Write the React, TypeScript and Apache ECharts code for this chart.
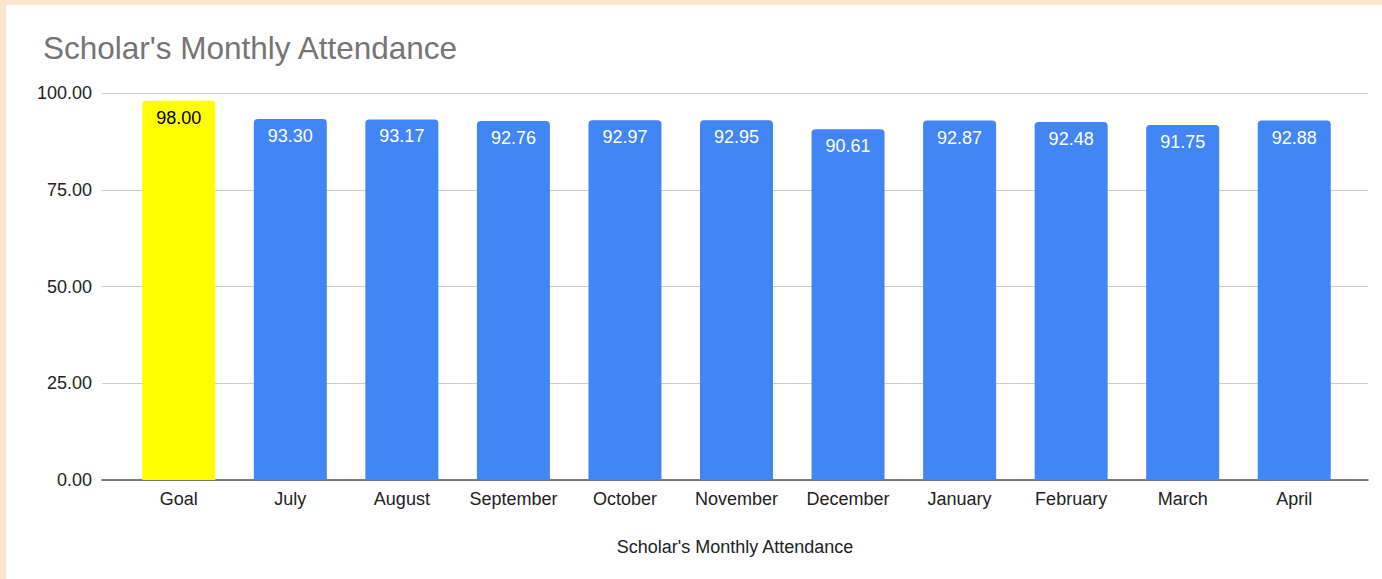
import React, { useEffect, useRef } from "react";
import * as echarts from "echarts";

const categories = ["Goal", "July", "August", "September", "October", "November", "December", "January", "February", "March", "April"];
const attendance = [98.0, 93.3, 93.17, 92.76, 92.97, 92.95, 90.61, 92.87, 92.48, 91.75, 92.88];
const barColors = ["#ffff00", "#4285f4", "#4285f4", "#4285f4", "#4285f4", "#4285f4", "#4285f4", "#4285f4", "#4285f4", "#4285f4", "#4285f4"];
const labelColors = ["#000000", "#ffffff", "#ffffff", "#ffffff", "#ffffff", "#ffffff", "#ffffff", "#ffffff", "#ffffff", "#ffffff", "#ffffff"];
const titleText = "Scholar's Monthly Attendance";
const xAxisName = "Scholar's Monthly Attendance";

const FONT = "'Liberation Sans', Arial, sans-serif";

export default function App() {
  const ref = useRef<HTMLDivElement>(null);
  useEffect(() => {
    if (!ref.current) return;
    const chart = echarts.init(ref.current, null, { renderer: "svg" });
    chart.setOption({
      animation: false,
      backgroundColor: "transparent",
      title: {
        text: titleText,
        left: 38,
        top: 27,
        textStyle: { fontFamily: FONT, fontSize: 31.5, fontWeight: "normal", color: "#757575" },
      },
      grid: [
        { left: 102, right: 14, top: 93, bottom: 99 },
        { left: 123, right: 32, top: 93, bottom: 99 },
      ],
      xAxis: [
        {
          type: "category",
          gridIndex: 0,
          data: categories,
          axisLine: { show: true, lineStyle: { color: "#555", width: 1.5 } },
          axisTick: { show: false },
          axisLabel: { show: false },
          name: xAxisName,
          nameLocation: "middle",
          nameGap: 58,
          nameTextStyle: { fontFamily: FONT, fontSize: 18, color: "#222" },
        },
        {
          type: "category",
          gridIndex: 1,
          data: categories,
          axisLine: { show: false },
          axisTick: { show: false },
          axisLabel: { show: true, margin: 10, fontFamily: FONT, fontSize: 18, color: "#222", interval: 0 },
        },
      ],
      yAxis: [
        {
          type: "value",
          gridIndex: 0,
          min: 0,
          max: 100,
          interval: 25,
          axisLine: { show: false },
          axisTick: { show: false },
          splitLine: { show: true, lineStyle: { color: "#cccccc", width: 1 } },
          axisLabel: {
            margin: 10,
            fontFamily: FONT,
            fontSize: 18,
            color: "#222",
            formatter: (v: number) => v.toFixed(2),
          },
        },
        {
          type: "value",
          gridIndex: 1,
          min: 0,
          max: 100,
          interval: 25,
          show: false,
          splitLine: { show: false },
        },
      ],
      series: [
        {
          type: "bar",
          xAxisIndex: 1,
          yAxisIndex: 1,
          barWidth: 73,
          data: attendance.map((v, i) => ({
            value: v,
            itemStyle: { color: barColors[i], borderRadius: [4, 4, 0, 0] },
            label: { color: labelColors[i] },
          })),
          label: {
            show: true,
            position: "insideTop",
            distance: 8,
            fontFamily: FONT,
            fontSize: 18,
            formatter: (p: any) => Number(p.value).toFixed(2),
          },
        },
      ],
    });
    return () => chart.dispose();
  }, []);

  return (
    <div style={{ position: "absolute", left: 0, top: 0, width: 1382, height: 579, background: "#fce5cd", overflow: "hidden" }}>
      <div style={{ position: "absolute", left: 6, top: 5, width: 1376, height: 574, background: "#ffffff" }} />
      <div ref={ref} style={{ position: "absolute", left: 0, top: 0, width: 1382, height: 579 }} />
    </div>
  );
}
